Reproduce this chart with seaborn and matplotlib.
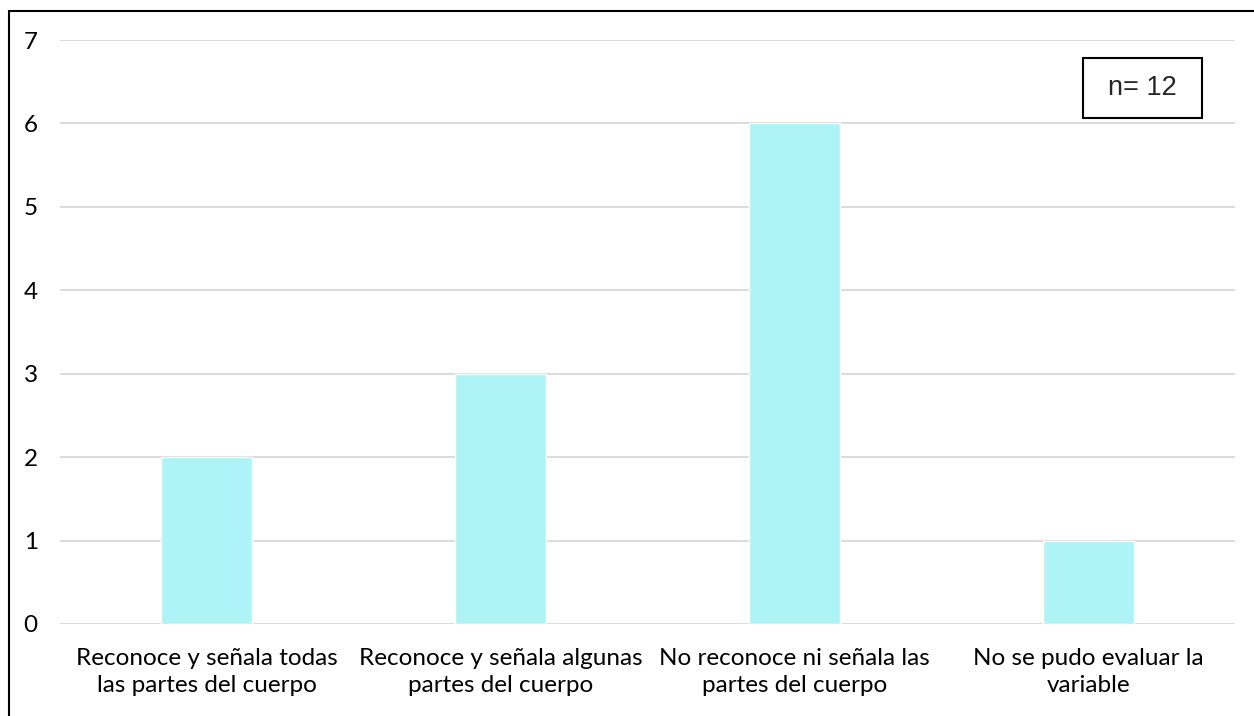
import matplotlib
matplotlib.use("Agg")
import matplotlib.pyplot as plt
import seaborn as sns
import pandas as pd
from matplotlib.patches import Rectangle

# datos del gráfico
categorias = [
    "Reconoce y señala todas\nlas partes del cuerpo",
    "Reconoce y señala algunas\npartes del cuerpo",
    "No reconoce ni señala las\npartes del cuerpo",
    "No se pudo evaluar la\nvariable",
]
valores = [2, 3, 6, 1]
ticks_y = [0, 1, 2, 3, 4, 5, 6, 7]

sns.set_style("white")
plt.rcParams['font.family'] = ['Lato', 'DejaVu Sans']

df = pd.DataFrame({"categoria": categorias, "valor": valores})

fig = plt.figure(figsize=(12.54, 7.16), dpi=100)
ax = fig.add_axes([0.0478, 0.1285, 0.985 - 0.0478, 0.9441 - 0.1285])

sns.barplot(data=df, x="categoria", y="valor", color="#AEF4F6",
            saturation=1, width=0.31, ax=ax, zorder=3)

ax.set_ylim(0, 7)
ax.set_xlim(-0.5, 3.5)
ax.set_yticks(ticks_y)
ax.yaxis.grid(True, color="#D9D9D9", linewidth=1.3, zorder=0)
ax.set_axisbelow(True)
for s in ax.spines.values():
    s.set_visible(False)
ax.tick_params(axis="both", length=0, labelsize=17.5, colors="#000000")
ax.tick_params(axis="y", pad=16)
ax.tick_params(axis="x", pad=17)
ax.set_xlabel("")
ax.set_ylabel("")
for lbl in ax.get_xticklabels():
    lbl.set_linespacing(1.35)

# cuadro n=
fig.patches.append(Rectangle((1083 / 1254, 1 - 118 / 716), 119 / 1254, 60 / 716,
                             transform=fig.transFigure, fc="white", ec="black",
                             lw=1.5, zorder=5, figure=fig))
fig.text(1142.5 / 1254, 1 - 88 / 716, "n= 12", ha="center", va="center",
         fontsize=19.5, family="Liberation Sans", zorder=6)

# marco exterior (cortado a la derecha y abajo)
fig.patches.append(Rectangle((9 / 1254, -0.05), 1.2, 1 - 11 / 716 + 0.05,
                             transform=fig.transFigure, fill=False,
                             ec="black", lw=1.5, figure=fig))

fig.savefig("out.png", dpi=100)
